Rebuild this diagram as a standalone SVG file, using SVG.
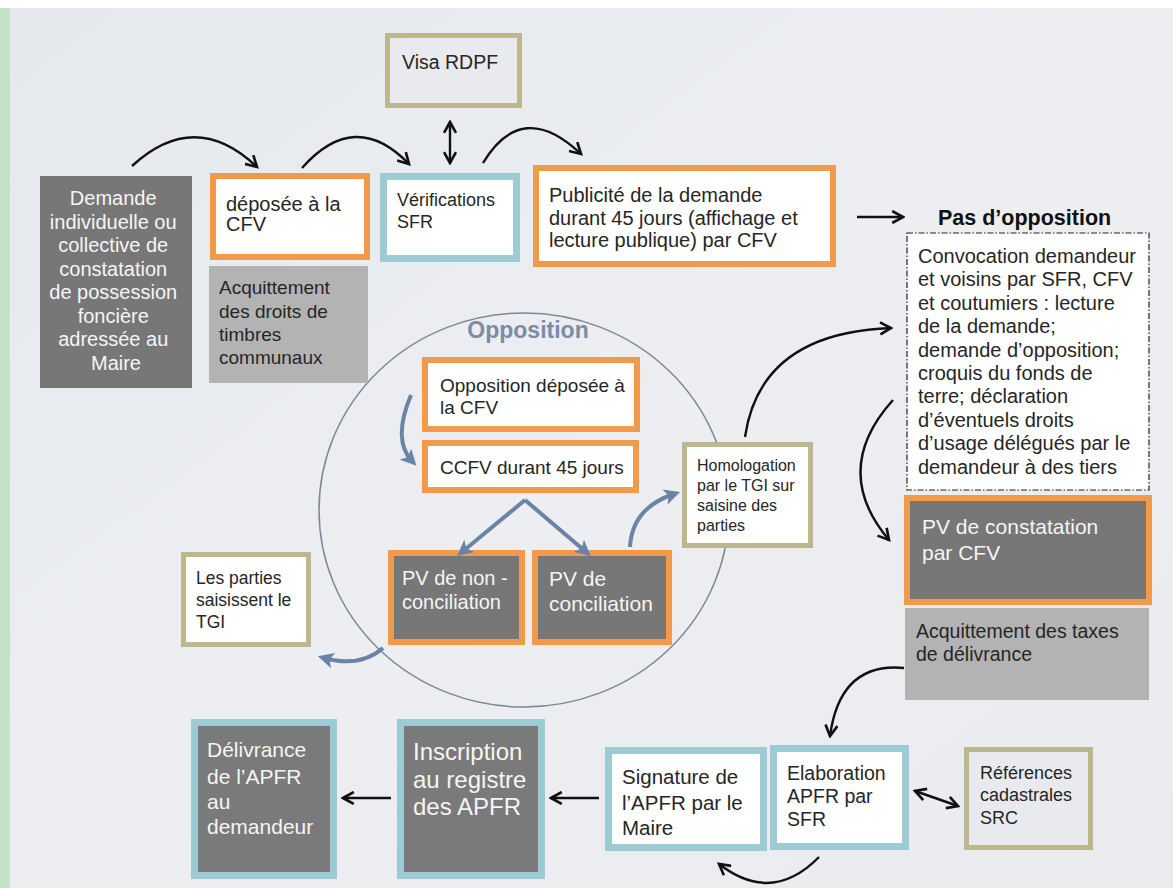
<svg xmlns="http://www.w3.org/2000/svg" width="1173" height="888" viewBox="0 0 1173 888">
<defs>
<linearGradient id="bg" x1="0" y1="0" x2="1" y2="1">
<stop offset="0" stop-color="#e5e8ec"/>
<stop offset="0.5" stop-color="#eceef2"/>
<stop offset="1" stop-color="#e9ebef"/>
</linearGradient>
<marker id="ah" viewBox="0 0 12 12" refX="10" refY="6" markerWidth="6" markerHeight="6" markerUnits="strokeWidth" orient="auto-start-reverse">
<path d="M1,1 L10,6 L1,11" fill="none" stroke="#111" stroke-width="2.2" stroke-linejoin="miter"/>
</marker>
<marker id="bh" viewBox="0 0 10 10" refX="6" refY="5" markerWidth="4" markerHeight="4" markerUnits="strokeWidth" orient="auto">
<path d="M0,0 L10,5 L0,10 L2.5,5 Z" fill="#6b84a6"/>
</marker>
<style>
.t{font-family:"Liberation Sans",Arial,sans-serif;fill:#262626}
.w{font-family:"Liberation Sans",Arial,sans-serif;fill:#f5f5f5}
.orange{fill:#ffffff;stroke:#f29a4c;stroke-width:6}
.orangeD{fill:#777777;stroke:#f29a4c;stroke-width:6}
.teal{fill:#ffffff;stroke:#9ccbd4;stroke-width:7}
.tealD{fill:#7a7a7a;stroke:#9ccbd4;stroke-width:7}
.olive{fill:#ffffff;stroke:#bcb78e;stroke-width:5}
.oliveBg{fill:#e8eaee;stroke:#bcb78e;stroke-width:5}
.dark{fill:#777777}
.light{fill:#b3b3b3}
.blk{fill:none;stroke:#111;stroke-width:2.4;marker-end:url(#ah)}
.blk2{fill:none;stroke:#111;stroke-width:2.4;marker-end:url(#ah);marker-start:url(#ah)}
.blu{fill:none;stroke:#6b84a6;stroke-width:4;marker-end:url(#bh)}
</style>
</defs>

<rect x="0" y="0" width="1173" height="888" fill="#ffffff"/>
<rect x="10" y="8" width="1163" height="880" fill="url(#bg)"/>
<rect x="0" y="8" width="10" height="880" fill="#c6e2c6"/>

<g id="opposition-circle">
<ellipse cx="524" cy="510" rx="205" ry="197" fill="none" stroke="#7d8797" stroke-width="1.5"/>
<text x="528" y="338" text-anchor="middle" font-family="Liberation Sans, Arial, sans-serif" font-weight="bold" font-size="23" fill="#7b8ca6">Opposition</text>
</g>

<g id="demande">
<rect x="40" y="176" width="152" height="212" class="dark"/>
<text class="w" font-size="20" text-anchor="middle">
<tspan x="116" y="205">Demande</tspan>
<tspan x="116" y="228.5">individuelle ou</tspan>
<tspan x="116" y="252">collective de</tspan>
<tspan x="116" y="275.5">constatation</tspan>
<tspan x="116" y="299">de possession</tspan>
<tspan x="116" y="322.5">foncière</tspan>
<tspan x="116" y="346">adressée au</tspan>
<tspan x="116" y="369.5">Maire</tspan>
</text>
</g>

<g id="deposee">
<rect x="213" y="176" width="154" height="81" class="orange"/>
<text class="t" font-size="20"><tspan x="226" y="211">déposée à la</tspan><tspan x="226" y="231">CFV</tspan></text>
</g>

<g id="acquittement-droits">
<rect x="209" y="266" width="159" height="117" class="light"/>
<text class="t" font-size="19">
<tspan x="219" y="294">Acquittement</tspan>
<tspan x="219" y="318">des droits de</tspan>
<tspan x="219" y="341">timbres</tspan>
<tspan x="219" y="364">communaux</tspan>
</text>
</g>

<g id="visa">
<rect x="387.5" y="35.5" width="132" height="70" class="oliveBg"/>
<text class="t" font-size="19.5" x="402" y="69">Visa RDPF</text>
</g>

<g id="verifications">
<rect x="383.5" y="176.5" width="133" height="82" class="teal"/>
<text class="t" font-size="18"><tspan x="397" y="206">Vérifications</tspan><tspan x="397" y="228">SFR</tspan></text>
</g>

<g id="publicite">
<rect x="536" y="168" width="297" height="96" class="orange"/>
<text class="t" font-size="20">
<tspan x="549" y="202">Publicité de la demande</tspan>
<tspan x="549" y="224.5">durant 45 jours (affichage et</tspan>
<tspan x="549" y="247">lecture publique) par CFV</tspan>
</text>
</g>

<g id="pas-opposition">
<text x="938" y="225" font-family="Liberation Sans, Arial, sans-serif" font-weight="bold" font-size="21.5" fill="#111">Pas d’opposition</text>
</g>

<g id="convocation">
<rect x="907" y="233" width="242" height="257" fill="#ffffff" stroke="#222" stroke-width="1.2" stroke-dasharray="6,2,1.5,2"/>
<text class="t" font-size="20">
<tspan x="918" y="263">Convocation demandeur</tspan>
<tspan x="918" y="286.4">et voisins par SFR, CFV</tspan>
<tspan x="918" y="309.8">et coutumiers : lecture</tspan>
<tspan x="918" y="333.2">de la demande;</tspan>
<tspan x="918" y="356.6">demande d’opposition;</tspan>
<tspan x="918" y="380">croquis du fonds de</tspan>
<tspan x="918" y="403.4">terre; déclaration</tspan>
<tspan x="918" y="426.8">d’éventuels droits</tspan>
<tspan x="918" y="450.2">d’usage délégués par le</tspan>
<tspan x="918" y="473.6">demandeur à des tiers</tspan>
</text>
</g>

<g id="pv-constatation">
<rect x="907" y="498" width="242" height="104" class="orangeD"/>
<text class="w" font-size="21"><tspan x="922" y="534">PV de constatation</tspan><tspan x="922" y="560">par CFV</tspan></text>
</g>

<g id="acquittement-taxes">
<rect x="905" y="608" width="244" height="92" class="light"/>
<text class="t" font-size="19.5"><tspan x="916" y="638">Acquittement des taxes</tspan><tspan x="916" y="661">de délivrance</tspan></text>
</g>

<g id="opposition-deposee">
<rect x="425" y="360" width="212" height="69" class="orange"/>
<text class="t" font-size="19"><tspan x="440" y="392">Opposition déposée à</tspan><tspan x="440" y="414">la CFV</tspan></text>
</g>

<g id="ccfv">
<rect x="425" y="443" width="211" height="47" class="orange"/>
<text class="t" font-size="19" x="440" y="474">CCFV durant 45 jours</text>
</g>

<g id="pv-non-conciliation">
<rect x="391" y="553" width="131" height="89" class="orangeD"/>
<text class="w" font-size="20"><tspan x="402" y="585">PV de non -</tspan><tspan x="402" y="609">conciliation</tspan></text>
</g>

<g id="pv-conciliation">
<rect x="535" y="553" width="134" height="89" class="orangeD"/>
<text class="w" font-size="21"><tspan x="549" y="586">PV de</tspan><tspan x="549" y="611">conciliation</tspan></text>
</g>

<g id="homologation">
<rect x="684.5" y="444.5" width="126" height="101" class="olive"/>
<text class="t" font-size="16">
<tspan x="697" y="471">Homologation</tspan>
<tspan x="697" y="491">par le TGI sur</tspan>
<tspan x="697" y="511">saisine des</tspan>
<tspan x="697" y="531">parties</tspan>
</text>
</g>

<g id="les-parties">
<rect x="183.5" y="554.5" width="125" height="90" class="olive"/>
<text class="t" font-size="17.5">
<tspan x="196" y="584">Les parties</tspan>
<tspan x="196" y="606">saisissent le</tspan>
<tspan x="196" y="628">TGI</tspan>
</text>
</g>

<g id="delivrance">
<rect x="194.5" y="722.5" width="139" height="153" class="tealD"/>
<text class="w" font-size="21">
<tspan x="207" y="757">Délivrance</tspan>
<tspan x="207" y="784">de l’APFR</tspan>
<tspan x="207" y="809">au</tspan>
<tspan x="207" y="834">demandeur</tspan>
</text>
</g>

<g id="inscription">
<rect x="400.5" y="722.5" width="141" height="153" class="tealD"/>
<text class="w" font-size="24">
<tspan x="413" y="760">Inscription</tspan>
<tspan x="413" y="788">au registre</tspan>
<tspan x="413" y="815">des APFR</tspan>
</text>
</g>

<g id="signature">
<rect x="608.5" y="750.5" width="155" height="97" class="teal"/>
<text class="t" font-size="20.5">
<tspan x="622" y="784">Signature de</tspan>
<tspan x="622" y="810">l’APFR par le</tspan>
<tspan x="622" y="835">Maire</tspan>
</text>
</g>

<g id="elaboration">
<rect x="773.5" y="748.5" width="132" height="98" class="teal"/>
<text class="t" font-size="19.5">
<tspan x="787" y="780">Elaboration</tspan>
<tspan x="787" y="803">APFR par</tspan>
<tspan x="787" y="826">SFR</tspan>
</text>
</g>

<g id="references">
<rect x="966.5" y="749.5" width="124" height="98" class="oliveBg"/>
<text class="t" font-size="18">
<tspan x="980" y="779">Références</tspan>
<tspan x="980" y="801">cadastrales</tspan>
<tspan x="980" y="824">SRC</tspan>
</text>
</g>

<g id="connectors">
<path class="blk" d="M132,166 Q195,108 257,167"/>
<path class="blk" d="M302,168 Q355,108 409,164"/>
<path class="blk2" d="M450,122 L450,163"/>
<path class="blk" d="M483,163 Q522,98 581,154"/>
<path class="blk" d="M857,217 L903,217"/>
<path class="blk" d="M745,437 Q760,333 891,328"/>
<path class="blk" d="M893,400 Q830,470 889,540"/>
<path class="blk" d="M904,668 Q840,662 830,736"/>
<path class="blk2" d="M915,791 L958,806"/>
<path class="blk" d="M819,857 Q772,905 719,864"/>
<path class="blk" d="M599,798 L551,798"/>
<path class="blk" d="M391,798 L343,798"/>
<path class="blu" d="M411,395 Q392,440 412,461"/>
<path class="blu" d="M525,500 L462,552"/>
<path class="blu" d="M525,500 L586,552"/>
<path class="blu" d="M630,547 Q632,508 674,494"/>
<path class="blu" d="M383,648 Q360,668 324,658"/>
</g>
</svg>
